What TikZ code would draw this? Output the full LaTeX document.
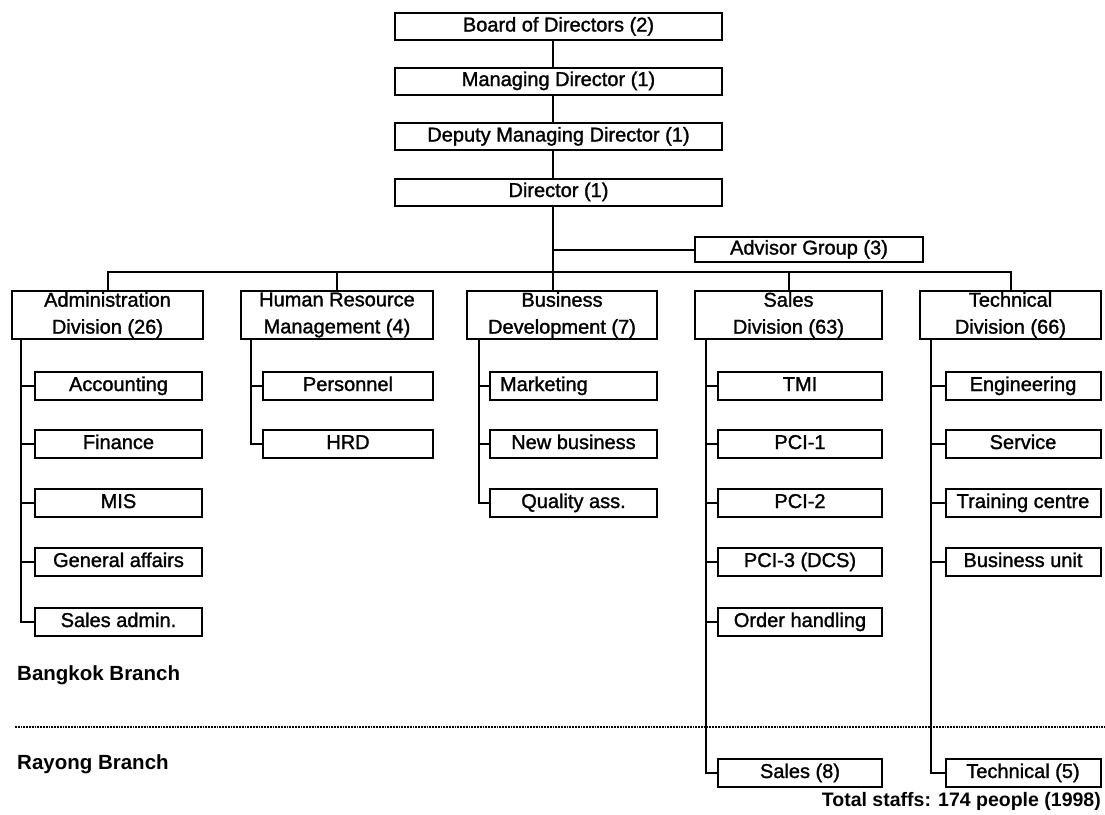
\documentclass[tikz,border=0pt]{standalone}
\usepackage{fontspec}
\setmainfont{Liberation Sans}
\newfontfamily\heavyfont{Liberation Sans}[FakeBold=1.4]
\begin{document}
\begin{tikzpicture}[x=1pt,y=-1pt,
  every node/.style={font=\heavyfont\fontsize{20}{27}\selectfont},
  bx/.style={draw, line width=2pt, inner sep=0pt, align=center},
  fixh/.style={text height=13.5pt, text depth=3.5pt},
  topbox/.style={bx, fixh, minimum width=327pt, minimum height=27pt},
  divbox/.style={bx, minimum height=48pt},
  subbox/.style={bx, fixh, minimum height=28pt},
  ln/.style={line width=2pt},
  dotline/.style={line width=2.6pt, dash pattern=on 1.8pt off 1pt},
  lbl/.style={font=\fontsize{20.5}{24}\selectfont\bfseries, anchor=west, inner sep=0pt}]
\fill[white] (0,0) rectangle (1105,814);
\useasboundingbox (0,0) rectangle (1105,814);

% top chain
\node[topbox] (board) at (558.5,26.5) {Board of Directors (2)};
\node[topbox] (md) at (558.5,81) {Managing Director (1)};
\node[topbox] (dmd) at (558.5,136.5) {Deputy Managing Director (1)};
\node[topbox] (dir) at (558.5,192) {Director (1)};
\node[bx, fixh, minimum width=228pt, minimum height=25pt] (adv) at (809,249.5) {Advisor Group (3)};

% divisions
\node[divbox, minimum width=191pt] (adm) at (107.5,315) {Administration\\Division (26)};
\node[divbox, minimum width=192pt] (hrm) at (337,315) {Human Resource\\Management (4)};
\node[divbox, minimum width=190pt] (bus) at (562,315) {Business\\Development (7)};
\node[divbox, minimum width=187pt] (sal) at (788.5,315) {Sales\\Division (63)};
\node[divbox, minimum width=181pt] (tec) at (1010.5,315) {Technical\\Division (66)};

% administration units
\node[subbox, minimum width=167pt] (acc) at (118.5,386) {Accounting};
\node[subbox, minimum width=167pt] (fin) at (118.5,444) {Finance};
\node[subbox, minimum width=167pt] (mis) at (118.5,503) {MIS};
\node[subbox, minimum width=167pt] (gen) at (118.5,562) {General affairs};
\node[subbox, minimum width=167pt] (sadm) at (118.5,622) {Sales admin.};

% HR units
\node[subbox, minimum width=170pt] (per) at (348,386) {Personnel};
\node[subbox, minimum width=170pt] (hrd) at (348,444) {HRD};

% business units
\node[subbox, minimum width=167pt, text width=147pt, inner xsep=10pt, align=left] (mkt) at (573.5,386) {Marketing};
\node[subbox, minimum width=167pt] (nbz) at (573.5,444) {New business};
\node[subbox, minimum width=167pt] (qas) at (573.5,503) {Quality ass.};

% sales units
\node[subbox, minimum width=164pt] (tmi) at (800,386) {TMI};
\node[subbox, minimum width=164pt] (pc1) at (800,444) {PCI-1};
\node[subbox, minimum width=164pt] (pc2) at (800,503) {PCI-2};
\node[subbox, minimum width=164pt] (pc3) at (800,562) {PCI-3 (DCS)};
\node[subbox, minimum width=164pt] (ord) at (800,622) {Order handling};
\node[subbox, minimum width=164pt] (s8) at (800,773) {Sales (8)};

% technical units
\node[subbox, minimum width=155pt] (eng) at (1023,386) {Engineering};
\node[subbox, minimum width=155pt] (srv) at (1023,444) {Service};
\node[subbox, minimum width=155pt] (trn) at (1023,503) {Training centre};
\node[subbox, minimum width=155pt] (bun) at (1023,562) {Business unit};
\node[subbox, minimum width=155pt] (t5) at (1023,773) {Technical (5)};

% labels
\node[lbl] (bkk) at (17,675) {Bangkok Branch};
\node[lbl] (ryg) at (17,764) {Rayong Branch};
\node[lbl, anchor=east, font=\fontsize{19.5}{24}\selectfont\bfseries] (tot) at (1101,801) {Total staffs: 174 people (1998)};

% dotted separator
\coordinate (dl) at (15,727);
\coordinate (dr) at (1105,727);
\draw[dotline] (dl) -- (dr);

% spine
\coordinate (spine) at (553,272);
\draw[ln] (board.south -| spine) -- (md.north -| spine);
\draw[ln] (md.south -| spine) -- (dmd.north -| spine);
\draw[ln] (dmd.south -| spine) -- (dir.north -| spine);
\draw[ln] (dir.south -| spine) -- (bus.north -| spine);
\draw[ln] (adv.west -| spine) -- (adv.west);
\draw[ln] (adm.north) |- (spine) -| (tec.north);
\draw[ln] (hrm.north) -- (hrm.north |- spine);
\draw[ln] (sal.north) -- (sal.north |- spine);

% unit connectors
\coordinate (admv) at ([xshift=10pt]adm.south west);
\draw[ln] (admv) |- (sadm.west);
\foreach \n in {acc,fin,mis,gen} \draw[ln] (admv |- \n.west) -- (\n.west);

\coordinate (hrmv) at ([xshift=11pt]hrm.south west);
\draw[ln] (hrmv) |- (hrd.west);
\draw[ln] (hrmv |- per.west) -- (per.west);

\coordinate (busv) at ([xshift=13pt]bus.south west);
\draw[ln] (busv) |- (qas.west);
\foreach \n in {mkt,nbz} \draw[ln] (busv |- \n.west) -- (\n.west);

\coordinate (salv) at ([xshift=12pt]sal.south west);
\draw[ln] (salv) |- (s8.west);
\foreach \n in {tmi,pc1,pc2,pc3,ord} \draw[ln] (salv |- \n.west) -- (\n.west);

\coordinate (tecv) at ([xshift=12pt]tec.south west);
\draw[ln] (tecv) |- (t5.west);
\foreach \n in {eng,srv,trn,bun} \draw[ln] (tecv |- \n.west) -- (\n.west);
\end{tikzpicture}
\end{document}
